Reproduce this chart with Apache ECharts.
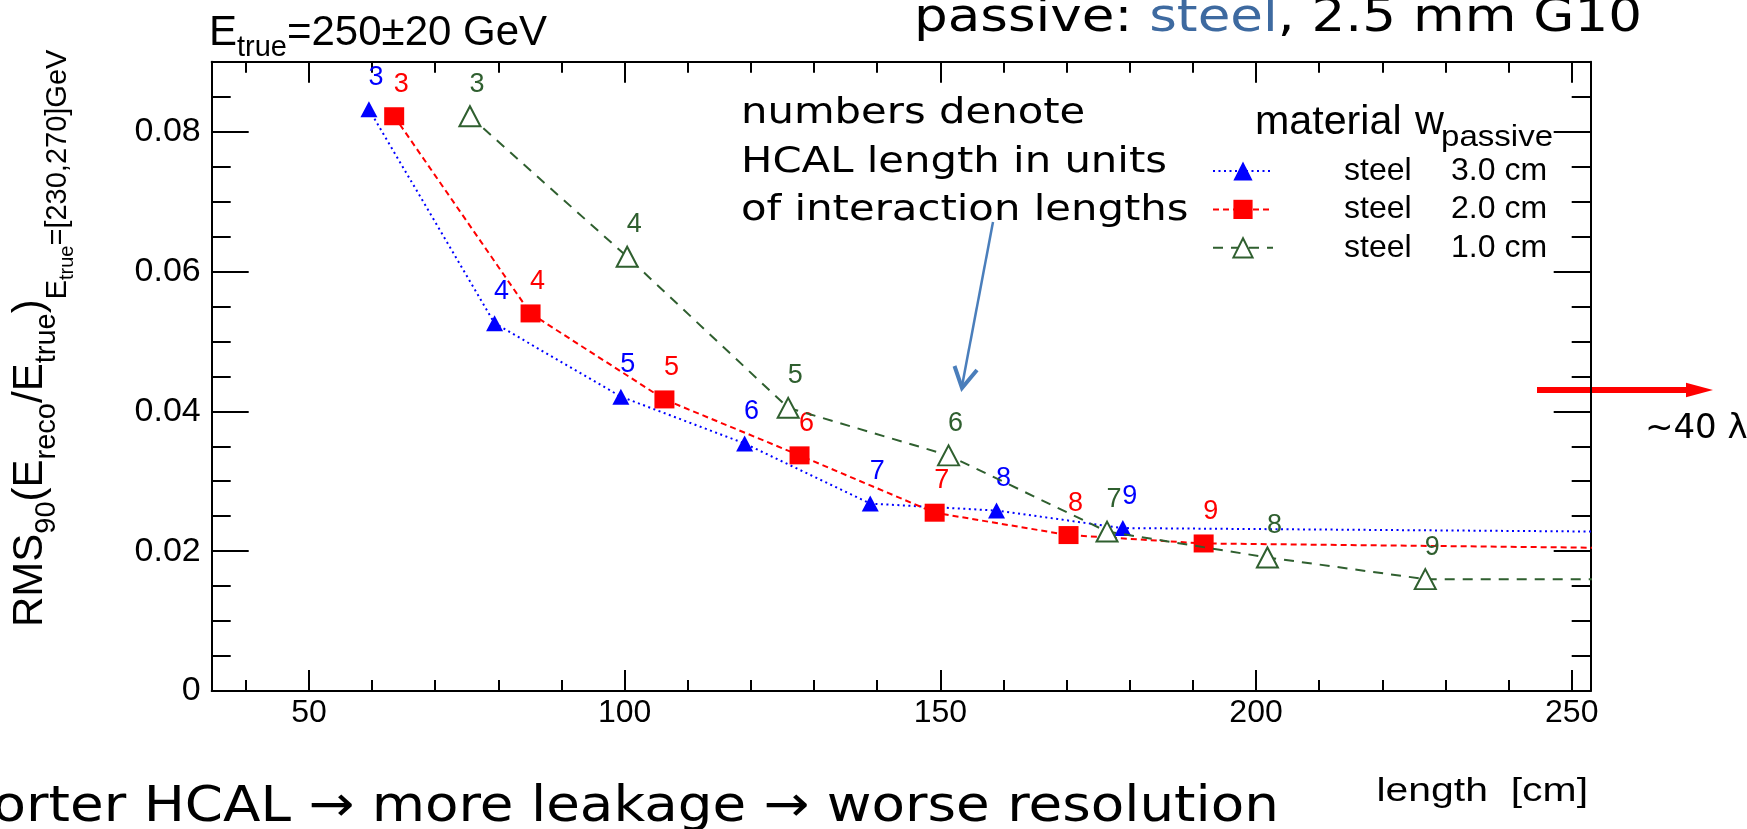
<!DOCTYPE html>
<html><head><meta charset="utf-8">
<script src="https://cdn.jsdelivr.net/npm/echarts@6/dist/echarts.min.js"></script>
<style>html,body{margin:0;padding:0;background:#fff}#c{width:1747px;height:829px}</style>
</head><body><div id="c"></div>
<script>
// ---- data ----
const lambdaLabels = ['3', '4', '5', '6', '7', '8', '9'];
// last point of each list: the ~40 lambda reference length (off the plot to the right)
const lenSteel30 = [59.5, 79.4, 99.4, 119.0, 138.9, 158.9, 178.9, 796];
const rmsSteel30 = [0.0832, 0.0526, 0.0421, 0.0354, 0.0268, 0.0258, 0.0233, 0.0192];
const lenSteel20 = [63.5, 85.1, 106.3, 127.7, 149.1, 170.3, 191.7, 852];
const rmsSteel20 = [0.0822, 0.0540, 0.0417, 0.0337, 0.0255, 0.0223, 0.0211, 0.0146];
const lenSteel10 = [75.5, 100.4, 125.9, 151.3, 176.4, 201.8, 226.8, 1008];
const rmsSteel10 = [0.0822, 0.0621, 0.0405, 0.0337, 0.0228, 0.0191, 0.0160, 0.0155];
const materials = ['steel', 'steel', 'steel'];
const wPassive = ['3.0 cm', '2.0 cm', '1.0 cm'];
const xMajorTicks = [50, 100, 150, 200, 250];
const xTickLabels = ['50', '100', '150', '200', '250'];
const xMinorTicks = [40, 60, 70, 80, 90, 110, 120, 130, 140, 160, 170, 180, 190, 210, 220, 230, 240];
const yMajorTicks = [0, 0.02, 0.04, 0.06, 0.08];
const yTickLabels = ['0', '0.02', '0.04', '0.06', '0.08'];
const yMinorTicks = [0.005, 0.01, 0.015, 0.025, 0.03, 0.035, 0.045, 0.05, 0.055, 0.065, 0.07, 0.075, 0.085];

// ---- styling ----
const ROOTF = 'Liberation Sans, Arial, Helvetica, sans-serif';
const SLIDEF = 'DejaVu Sans, Verdana, sans-serif';
const XMIN = 34.6, XMAX = 253, YMIN = 0, YMAX = 0.09;
const names = materials.map((m, i) => m + ' ' + wPassive[i]);
const defs = [
  { len: lenSteel30, rms: rmsSteel30, color: '#0000ff', symbol: 'triangle', size: [17, 16], dash: [2, 3.5] },
  { len: lenSteel20, rms: rmsSteel20, color: '#ff0000', symbol: 'rect', size: [20, 18], dash: [6, 4] },
  { len: lenSteel10, rms: rmsSteel10, color: '#2f5f2f', symbol: 'emptyTriangle', size: [21, 20], dash: [10, 8] }
];

const series = defs.map((d, i) => ({
  name: names[i],
  type: 'line',
  xAxisIndex: 0, yAxisIndex: 0,
  data: d.len.map((x, k) => [x, d.rms[k]]),
  symbol: d.symbol, symbolSize: d.size, showAllSymbol: true,
  clip: true,
  itemStyle: { color: d.color, borderColor: d.color, borderWidth: d.symbol.indexOf('empty') === 0 ? 2 : 0 },
  lineStyle: { color: d.color, width: 2, type: d.dash },
  label: {
    show: true, position: 'inside', offset: [7, -32],
    color: d.color, fontSize: 27, fontFamily: ROOTF,
    formatter: p => lambdaLabels[p.dataIndex] || ''
  },
  emphasis: { disabled: true },
  z: 3 + i
}));

function xAx(grid, pos, ticks, len, labels) {
  return {
    type: 'value', gridIndex: grid, position: pos, min: XMIN, max: XMAX,
    axisLine: { show: grid === 0, onZero: false, lineStyle: { color: '#000', width: 2 } },
    axisTick: { show: true, inside: true, length: len, customValues: ticks, lineStyle: { color: '#000', width: 2 } },
    axisLabel: labels ? {
      show: true, customValues: ticks, margin: 6, color: '#000', fontSize: 32, fontFamily: ROOTF,
      formatter: v => xTickLabels[xMajorTicks.indexOf(v)]
    } : { show: false },
    splitLine: { show: false }
  };
}
function yAx(grid, pos, ticks, len, labels) {
  return {
    type: 'value', gridIndex: grid, position: pos, min: YMIN, max: YMAX,
    axisLine: { show: grid === 0, onZero: false, lineStyle: { color: '#000', width: 2 } },
    axisTick: { show: true, inside: true, length: len, customValues: ticks, lineStyle: { color: '#000', width: 2 } },
    axisLabel: labels ? {
      show: true, customValues: ticks, margin: 11, color: '#000', fontSize: 34, fontFamily: ROOTF,
      formatter: v => yTickLabels[yMajorTicks.indexOf(v)]
    } : { show: false },
    splitLine: { show: false }
  };
}

const gridPos = { left: 211.7, right: 156.3, top: 61.7, bottom: 138 };

const option = {
  animation: false,
  backgroundColor: '#fff',
  title: {
    text: '{E|E}{s|true}{E|=250±20 GeV}',
    left: 209, top: 12, padding: 0,
    textStyle: {
      fontWeight: 'normal',
      rich: {
        E: { fontSize: 42, fontFamily: ROOTF, fontWeight: 'normal', color: '#000', verticalAlign: 'top' },
        s: { fontSize: 29, fontFamily: ROOTF, fontWeight: 'normal', color: '#000', verticalAlign: 'top', padding: [21, 0, 0, 0] }
      }
    }
  },
  grid: [
    Object.assign({ show: false }, gridPos),
    Object.assign({ show: false }, gridPos)
  ],
  xAxis: [
    xAx(0, 'bottom', xMajorTicks, 21, true),
    xAx(0, 'top', xMajorTicks, 21, false),
    xAx(1, 'bottom', xMinorTicks, 11, false),
    xAx(1, 'top', xMinorTicks, 11, false)
  ],
  yAxis: [
    yAx(0, 'left', yMajorTicks, 37, true),
    yAx(0, 'right', yMajorTicks, 37, false),
    yAx(1, 'left', yMinorTicks, 19, false),
    yAx(1, 'right', yMinorTicks, 19, false)
  ],
  legend: {
    orient: 'vertical', left: 1212, top: 155, padding: 0,
    itemWidth: 60, itemHeight: 24, itemGap: 6.4,
    selectedMode: false,
    data: names,
    textStyle: {
      fontFamily: ROOTF, fontSize: 32, color: '#000', lineHeight: 24,
      rich: {
        s: { width: 66, fontSize: 32, fontFamily: ROOTF, lineHeight: 24 },
        a: { width: 107, fontSize: 32, fontFamily: ROOTF, color: '#000', lineHeight: 24 },
        b: { fontSize: 32, fontFamily: ROOTF, color: '#000', lineHeight: 24 }
      }
    },
    formatter: name => {
      const i = names.indexOf(name);
      return '{s| }{a|' + materials[i] + '}{b|' + wPassive[i] + '}';
    }
  },
  graphic: [
    // legend header
    { type: 'text', x: 1255, y: 123, scaleX: 1.03, style: { text: 'material', font: '40px ' + ROOTF, fill: '#000', align: 'left', verticalAlign: 'middle' } },
    { type: 'text', x: 1415, y: 123, style: { text: 'w', font: '40px ' + ROOTF, fill: '#000', align: 'left', verticalAlign: 'middle' } },
    { type: 'text', x: 1441, y: 138, scaleX: 1.14, style: { text: 'passive', font: '29px ' + ROOTF, fill: '#000', align: 'left', verticalAlign: 'middle' } },
    // y-axis title
    {
      type: 'text', x: 9.5, y: 627, rotation: Math.PI / 2,
      style: {
        text: '{m|RMS}{s|90}{m|(E}{s|reco}{m|/E}{s|true}{m|)}{g|E}{h|true}{g|=[230,270]GeV}',
        align: 'left', verticalAlign: 'top',
        rich: {
          m: { fontSize: 42, fontFamily: ROOTF, fill: '#000', verticalAlign: 'top' },
          s: { fontSize: 29, fontFamily: ROOTF, fill: '#000', verticalAlign: 'top', padding: [23, 0, 0, 0] },
          g: { fontSize: 29, fontFamily: ROOTF, fill: '#000', verticalAlign: 'top', padding: [34, 0, 0, 0] },
          h: { fontSize: 20, fontFamily: ROOTF, fill: '#000', verticalAlign: 'top', padding: [48, 0, 0, 0] }
        }
      }
    },
    // x-axis title
    { type: 'text', x: 1588, y: 791.5, scaleX: 1.24, style: { text: 'length  [cm]', font: '33px ' + ROOTF, fill: '#000', align: 'right', verticalAlign: 'middle' } },
    // slide annotations
    {
      type: 'text', x: 1642, y: 19, scaleX: 1.13,
      style: {
        text: '{k|passive: }{b|steel}{k|, 2.5 mm G10}', align: 'right', verticalAlign: 'middle',
        rich: {
          k: { fontSize: 47, fontFamily: SLIDEF, fill: '#000' },
          b: { fontSize: 47, fontFamily: SLIDEF, fill: '#3e6aa0' }
        }
      }
    },
    { type: 'text', x: 741, y: 113.9, scaleX: 1.16, style: { text: 'numbers denote', font: '36px ' + SLIDEF, fill: '#000', align: 'left', verticalAlign: 'middle' } },
    { type: 'text', x: 741, y: 162.2, scaleX: 1.16, style: { text: 'HCAL length in units', font: '36px ' + SLIDEF, fill: '#000', align: 'left', verticalAlign: 'middle' } },
    { type: 'text', x: 741, y: 210.5, scaleX: 1.16, style: { text: 'of interaction lengths', font: '36px ' + SLIDEF, fill: '#000', align: 'left', verticalAlign: 'middle' } },
    { type: 'line', shape: { x1: 993, y1: 222, x2: 962, y2: 386 }, style: { stroke: '#4a7ebb', lineWidth: 2.5 } },
    { type: 'polyline', shape: { points: [[954.5, 366], [962, 388], [977, 370]] }, style: { stroke: '#4a7ebb', lineWidth: 4, fill: null } },
    { type: 'text', x: 1279, y: 808.5, scaleX: 1.095, style: { text: 'shorter HCAL \u2192 more leakage \u2192 worse resolution', font: '50px ' + SLIDEF, fill: '#000', align: 'right', verticalAlign: 'middle' } },
    { type: 'line', shape: { x1: 1537, y1: 390, x2: 1690, y2: 390 }, style: { stroke: '#ff0000', lineWidth: 6 } },
    { type: 'polygon', shape: { points: [[1686, 382.7], [1713, 390], [1686, 397.3]] }, style: { fill: '#ff0000' } },
    { type: 'text', x: 1645, y: 429.5, style: { text: '~40 \u03bb', font: '34px ' + SLIDEF, fill: '#000', align: 'left', verticalAlign: 'middle' } }
  ],
  series: series
};

const chart = echarts.init(document.getElementById('c'), null, { renderer: 'canvas' });
chart.setOption(option);
</script>
</body></html>
